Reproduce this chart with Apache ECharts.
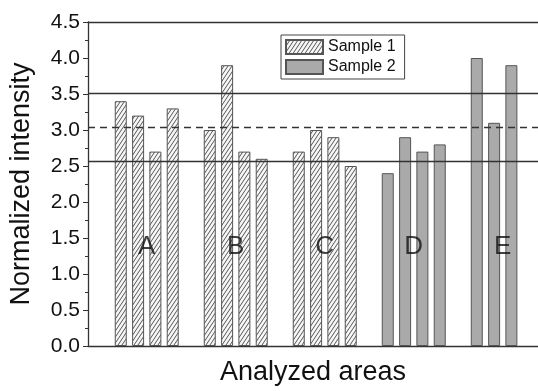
<!DOCTYPE html>
<html>
<head>
<meta charset="utf-8">
<script src="https://cdn.jsdelivr.net/npm/echarts@6/dist/echarts.min.js"></script>
<style>
  html, body { margin: 0; padding: 0; background: #fff; }
  #chart { width: 538px; height: 391px; }
</style>
</head>
<body>
<div id="chart"></div>
<script>
// data
const areas = ['A', 'B', 'C', 'D', 'E'];
const groupPos = [1, 2, 3, 4, 5];               // x position of each area
const slotOffsets = [-0.292, -0.097, 0.097, 0.292]; // bar slots inside a group
const sample1Areas = ['A', 'B', 'C'];
const sample1Values = [
    [3.4, 3.2, 2.7, 3.3],
    [3.0, 3.9, 2.7, 2.6],
    [2.7, 3.0, 2.9, 2.5]
];
const sample2Areas = ['D', 'E'];
const sample2Values = [
    [2.4, 2.9, 2.7, 2.8],
    [4.0, 3.1, 3.9]
];
const meanLine = 3.035;
const upperLine = 3.51;
const lowerLine = 2.56;
const yTicks = [0, 0.5, 1.0, 1.5, 2.0, 2.5, 3.0, 3.5, 4.0, 4.5];
const letterY = 1.38;

const fontFamily = 'Liberation Sans, Arial, sans-serif';
const textColor = '#111';

function toPoints(names, values) {
    const out = [];
    names.forEach((n, gi) => {
        const x0 = groupPos[areas.indexOf(n)];
        values[gi].forEach((v, i) => {
            out.push([x0 + slotOffsets[i], v]);
        });
    });
    return out;
}

// hatch pattern for sample 1
function makeHatch() {
    const c = document.createElement('canvas');
    c.width = 4;
    c.height = 6;
    const ctx = c.getContext('2d');
    ctx.fillStyle = '#f6f6f6';
    ctx.fillRect(0, 0, 4, 6);
    ctx.strokeStyle = '#555';
    ctx.lineWidth = 1;
    ctx.beginPath();
    ctx.moveTo(0, 6); ctx.lineTo(4, 0);
    ctx.moveTo(-1, 1.5); ctx.lineTo(1, -1.5);
    ctx.moveTo(3, 7.5); ctx.lineTo(5, 4.5);
    ctx.stroke();
    return c;
}

const chart = echarts.init(document.getElementById('chart'), null, { renderer: 'canvas' });

const option = {
    animation: false,
    textStyle: { fontFamily: fontFamily },
    grid: { left: 88, right: 0, top: 22, bottom: 37 },
    legend: {
        orient: 'vertical',
        left: 281,
        top: 35,
        itemWidth: 37,
        itemHeight: 14,
        itemGap: 4,
        padding: [4, 9, 4, 4],
        borderColor: '#444',
        borderWidth: 1,
        icon: 'rect',
        textStyle: { fontSize: 16, color: textColor, fontFamily: fontFamily },
        data: ['Sample 1', 'Sample 2']
    },
    xAxis: [
        {
            type: 'value',
            min: 0.34,
            max: 5.396,
            name: 'Analyzed areas',
            nameLocation: 'middle',
            nameGap: 13,
            nameTextStyle: { fontSize: 27, color: textColor, verticalAlign: 'top' },
            axisLine: { show: true, onZero: false, lineStyle: { color: '#333', width: 1.3 } },
            axisTick: { show: false },
            axisLabel: { show: false },
            splitLine: { show: false }
        },
        {
            type: 'value',
            position: 'top',
            min: 0.34,
            max: 5.396,
            axisLine: { show: true, onZero: false, lineStyle: { color: '#333', width: 1.3 } },
            axisTick: { show: false },
            axisLabel: { show: false },
            splitLine: { show: false }
        }
    ],
    yAxis: {
        type: 'value',
        min: yTicks[0],
        max: yTicks[yTicks.length - 1],
        interval: 0.5,
        name: 'Normalized intensity',
        nameLocation: 'middle',
        nameGap: 53,
        nameTextStyle: { fontSize: 27, color: textColor },
        axisLine: { show: true, lineStyle: { color: '#333', width: 1.3 } },
        axisTick: { show: true, inside: false, length: 5, lineStyle: { color: '#333' } },
        minorTick: { show: true, splitNumber: 2, length: 3, lineStyle: { color: '#333' } },
        axisLabel: {
            fontSize: 21,
            color: textColor,
            margin: 8,
            formatter: v => v.toFixed(1)
        },
        splitLine: { show: false }
    },
    series: [
        {
            name: 'Sample 1',
            type: 'bar',
            barWidth: 12,
            barGap: '-100%',
            itemStyle: {
                color: { image: makeHatch(), repeat: 'repeat' },
                borderColor: '#555',
                borderWidth: 1
            },
            data: toPoints(sample1Areas, sample1Values),
            markLine: {
                silent: true,
                symbol: 'none',
                label: { show: false },
                lineStyle: { color: '#333', width: 1.4, type: 'solid' },
                data: [
                    { yAxis: upperLine },
                    { yAxis: meanLine, lineStyle: { type: [7, 5] } },
                    { yAxis: lowerLine }
                ]
            }
        },
        {
            name: 'Sample 2',
            type: 'bar',
            barWidth: 12,
            barGap: '-100%',
            itemStyle: {
                color: '#aaaaaa',
                borderColor: '#555',
                borderWidth: 1
            },
            data: toPoints(sample2Areas, sample2Values)
        },
        {
            type: 'scatter',
            symbolSize: 0,
            silent: true,
            z: 5,
            label: {
                show: true,
                position: 'inside',
                formatter: '{b}',
                fontSize: 26,
                color: textColor
            },
            data: areas.map((n, i) => ({ name: n, value: [groupPos[i], letterY] }))
        }
    ]
};

chart.setOption(option);
window.addEventListener('resize', () => chart.resize());
</script>
</body>
</html>
